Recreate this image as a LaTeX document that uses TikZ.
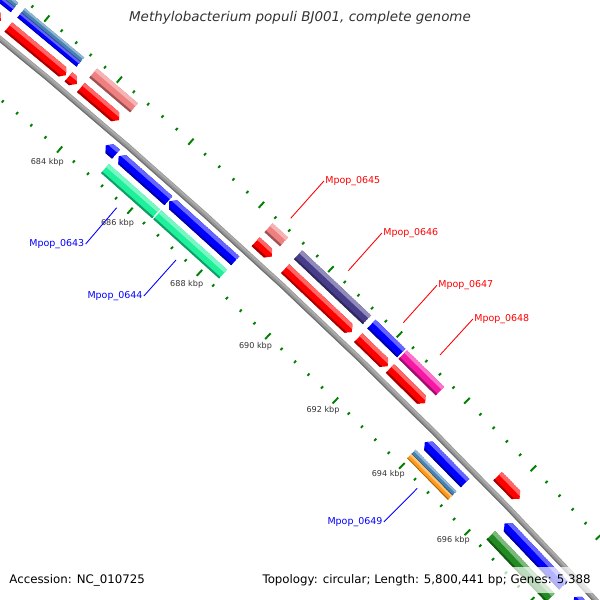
\documentclass[tikz,border=0pt]{standalone}
\usepackage{fontspec}
\setmainfont{DejaVu Sans}
\definecolor{cred}{RGB}{255,0,0}
\definecolor{cblue}{RGB}{0,0,255}
\definecolor{csteel}{RGB}{70,130,180}
\definecolor{ccoral}{RGB}{240,128,128}
\definecolor{cslate}{RGB}{72,61,139}
\definecolor{cpink}{RGB}{245,25,165}
\definecolor{cspring}{RGB}{30,240,155}
\definecolor{corange}{RGB}{255,153,26}
\definecolor{cforest}{RGB}{34,139,34}
\definecolor{ctick}{RGB}{0,128,0}
\definecolor{bbgray}{RGB}{148,148,148}
\definecolor{bblight}{RGB}{172,172,172}
\definecolor{bbdark}{RGB}{110,110,110}
\definecolor{kbpgray}{RGB}{51,51,51}
% #1 type (0 bar, 1 forward arrow, 2 reverse arrow) #2 start angle #3 end angle #4 inner r #5 outer r #6 colour
\newcommand\feat[6]{%
  \pgfmathsetmacro\fa{#2}%
  \pgfmathsetmacro\fb{#3}%
  \pgfmathsetmacro\ri{#4}%
  \pgfmathsetmacro\ro{#5}%
  \pgfmathsetmacro\rmd{(#4+#5)/2}%
  \pgfmathsetmacro\rl{#5-0.32*(#5-#4)}%
  \pgfmathsetmacro\rd{#4+0.18*(#5-#4)}%
  \pgfmathsetmacro\rob{#5+2}%
  \pgfmathsetmacro\rib{#4-2}%
  \pgfmathsetmacro\fah{#2+0.05}%
  \pgfmathsetmacro\fbh{#3-0.05}%
  \pgfmathsetmacro\fax{#2-0.2}%
  \pgfmathsetmacro\fbx{#3+0.2}%
  \ifcase#1\relax
    \def\fpath{(\fa:\ro) -- (\fb:\ro) -- (\fb:\ri) -- (\fa:\ri) -- cycle}%
  \or
    \def\fpath{(\fa:\ro) -- (\fbh:\ro) -- (\fb:\rmd) -- (\fbh:\ri) -- (\fa:\ri) -- cycle}%
  \or
    \def\fpath{(\fa:\rmd) -- (\fah:\ro) -- (\fb:\ro) -- (\fb:\ri) -- (\fah:\ri) -- cycle}%
  \fi
  \begin{scope}
    \clip \fpath;
    \fill[#6] \fpath;
    \fill[#6!60!white] (\fax:\rob) -- (\fbx:\rob) -- (\fbx:\rl) -- (\fax:\rl) -- cycle;
    \fill[#6!65!black] (\fax:\rib) -- (\fbx:\rib) -- (\fbx:\rd) -- (\fax:\rd) -- cycle;
  \end{scope}}
\begin{document}
\begin{tikzpicture}[x=0.02cm,y=-0.02cm,
  glabel/.style={font=\fontsize{5.4}{6.5}\selectfont, inner sep=0.6pt},
  kbplabel/.style={font=\fontsize{4.6}{5.5}\selectfont, text=kbpgray, inner sep=0pt},
  leader/.style={line width=0.5pt},
  tickmark/.style={ctick, line width=1.1pt},
  infotext/.style={font=\fontsize{6.72}{8}\selectfont, fill=white, fill opacity=0.7, text opacity=1, inner xsep=2.3pt, inner ysep=0pt, minimum height=14.7pt},
]
\useasboundingbox (0,0) rectangle (600,600);
\fill[white] (0,0) rectangle (600,600);
\begin{scope}
\clip (0,0) rectangle (600,600);
\begin{scope}[shift={(-3810,4675.4)}]
  % backbone
  \draw[line width=3.2pt, bbgray] plot[domain=-52:-41,samples=45] (\x:6001.5);
  \draw[line width=1.0pt, bblight] plot[domain=-52:-41,samples=45] (\x:6002.8);
  \draw[line width=0.6pt, bbdark] plot[domain=-52:-41,samples=45] (\x:5999.3);
  % tick rows
  \foreach \i in {0,...,50}{
    \pgfmathsetmacro\ta{-51.2644+0.17944*\i}
    \pgfmathtruncatemacro\tm{mod(\i,5)}
    \ifnum\tm=0
      \draw[tickmark] (\ta:6043) -- (\ta:6051);
      \draw[tickmark] (\ta:5951) -- (\ta:5959);
    \else
      \draw[tickmark] (\ta:6045.5) -- (\ta:6048.5);
      \draw[tickmark] (\ta:5953.5) -- (\ta:5956.5);
    \fi
  }
  % ring +1 : forward CDS
  \feat{1}{-52}{-50.69}{6010}{6022}{cred}
  \feat{1}{-50.60}{-49.88}{6010}{6022}{cred}
  \feat{1}{-49.855}{-49.75}{6010}{6022}{cred}
  \feat{1}{-49.70}{-49.22}{6010}{6022}{cred}
  \feat{1}{-47.48}{-47.27}{6010}{6022}{cred}
  \feat{1}{-47.10}{-46.22}{6010}{6022}{cred}
  \feat{1}{-46.14}{-45.75}{6010}{6022}{cred}
  \feat{1}{-45.72}{-45.25}{6010}{6022}{cred}
  \feat{1}{-44.27}{-43.97}{6010}{6022}{cred}
  % ring +2
  \feat{0}{-52}{-50.67}{6035}{6041}{csteel}
  \feat{0}{-52}{-50.67}{6029}{6035}{cblue}
  \feat{0}{-50.59}{-49.86}{6035}{6041}{csteel}
  \feat{0}{-50.59}{-49.86}{6029}{6035}{cblue}
  \feat{0}{-49.70}{-49.19}{6029}{6041}{ccoral}
  \feat{0}{-47.48}{-47.28}{6029}{6041}{ccoral}
  \feat{0}{-47.10}{-46.20}{6029}{6041}{cslate}
  \feat{0}{-46.14}{-45.745}{6029}{6041}{cblue}
  \feat{0}{-45.725}{-45.23}{6029}{6041}{cpink}
  % ring -1 : reverse CDS
  \feat{2}{-49.16}{-49.03}{5982}{5994}{cblue}
  \feat{2}{-49.00}{-48.36}{5982}{5994}{cblue}
  \feat{2}{-48.35}{-47.50}{5982}{5994}{cblue}
  \feat{2}{-44.99}{-44.44}{5982}{5994}{cblue}
  \feat{2}{-43.90}{-43.08}{5982}{5994}{cblue}
  \feat{2}{-42.93}{-41.00}{5982}{5994}{cblue}
  % ring -2
  \feat{0}{-49.02}{-48.365}{5964}{5976}{cspring}
  \feat{0}{-48.35}{-47.50}{5964}{5976}{cspring}
  \feat{0}{-45.00}{-44.44}{5970}{5976}{csteel}
  \feat{0}{-45.00}{-44.44}{5964}{5970}{corange}
  \feat{0}{-43.91}{-43.08}{5964}{5976}{cforest}
\end{scope}
\end{scope}
% kbp labels
\node[kbplabel] (k684) at (47.3,162.7) {684 kbp};
\node[kbplabel] (k686) at (117.5,223.3) {686 kbp};
\node[kbplabel] (k688) at (186.7,284) {688 kbp};
\node[kbplabel] (k690) at (255.5,346) {690 kbp};
\node[kbplabel] (k692) at (323,410) {692 kbp};
\node[kbplabel] (k694) at (388.3,474) {694 kbp};
\node[kbplabel] (k696) at (453.3,540) {696 kbp};
% gene labels and leaders
\coordinate (p643) at (116.7,207.7);
\coordinate (p644) at (176,260);
\coordinate (p645) at (290.7,218.3);
\coordinate (p646) at (348.3,270.7);
\coordinate (p647) at (403.3,322.7);
\coordinate (p648) at (440,355);
\coordinate (p649) at (417.3,488.3);
\node[glabel, text=cblue] (l643) at (56.8,244) {Mpop\_0643};
\node[glabel, text=cblue] (l644) at (115,296) {Mpop\_0644};
\node[glabel, text=cred] (l645) at (352.8,181) {Mpop\_0645};
\node[glabel, text=cred] (l646) at (410.8,233) {Mpop\_0646};
\node[glabel, text=cred] (l647) at (465.8,285.3) {Mpop\_0647};
\node[glabel, text=cred] (l648) at (501.8,319) {Mpop\_0648};
\node[glabel, text=cblue] (l649) at (355,522) {Mpop\_0649};
\draw[leader, cblue] (l643.east) -- (p643);
\draw[leader, cblue] (l644.east) -- (p644);
\draw[leader, cred] (l645.west) -- (p645);
\draw[leader, cred] (l646.west) -- (p646);
\draw[leader, cred] (l647.west) -- (p647);
\draw[leader, cred] (l648.west) -- (p648);
\draw[leader, cblue] (l649.east) -- (p649);
% title and info
\node[font=\fontsize{7.66}{9}\selectfont\itshape, text=black!80] (title) at (300,18) {Methylobacterium populi BJ001, complete genome};
\node[infotext, anchor=west] (acc) at (5,580) {Accession: NC\_010725};
\node[infotext, anchor=east] (topo) at (595,580) {Topology: circular; Length: 5,800,441 bp; Genes: 5,388};
\end{tikzpicture}
\end{document}
